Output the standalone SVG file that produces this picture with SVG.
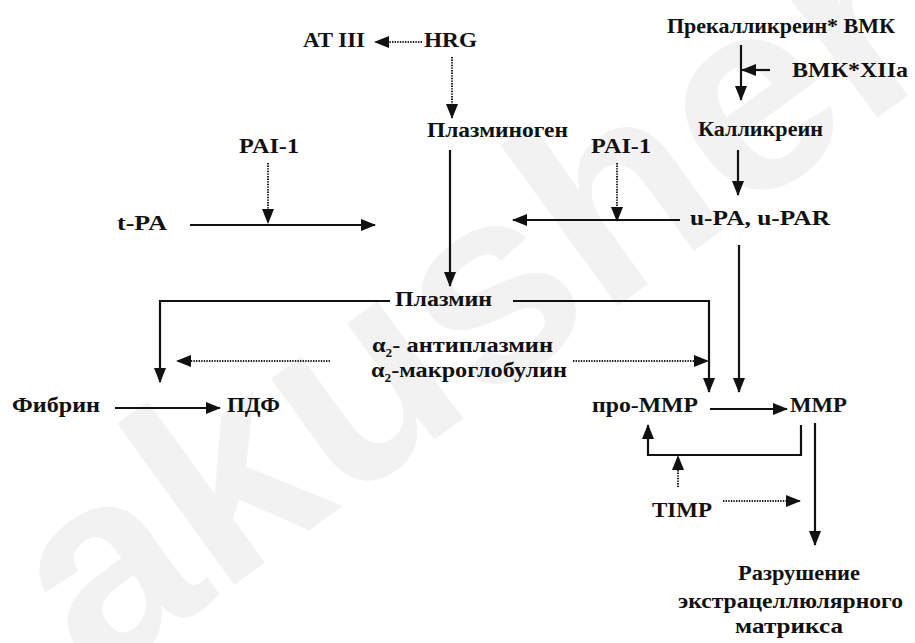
<svg xmlns="http://www.w3.org/2000/svg" width="915" height="643" viewBox="0 0 915 643">
  <style>
    text { font-family: "Liberation Serif", "Times New Roman", serif; font-weight: bold; font-size: 22px; fill: #111; }
    .sub { font-size: 12px; }
    .ln { fill: none; stroke: #111; stroke-width: 2.2; }
    .dot { fill: none; stroke: #222; stroke-width: 2; stroke-dasharray: 1.4 1.2; }
    .wm { font-family: "Liberation Sans", Arial, sans-serif; font-weight: bold; font-size: 275px; fill: #f2f2f2; }
  </style>
  <defs>
    <marker id="arr" markerUnits="userSpaceOnUse" markerWidth="15" markerHeight="12" refX="14" refY="6" orient="auto">
      <path d="M0,0 L15,6 L0,12 Z" fill="#111"/>
    </marker>
  </defs>

  <rect width="915" height="643" fill="#fff"/>

  <!-- faint background lettering -->
  <g id="watermark">
    <text class="wm" transform="rotate(-36 95 686)" x="95" y="686">akusherstvo</text>
  </g>

  <!-- connectors -->
  <g id="connectors">
    <line class="dot" x1="422" y1="42" x2="375" y2="42" marker-end="url(#arr)"/>
    <line class="dot" x1="452" y1="57" x2="452" y2="118" marker-end="url(#arr)"/>
    <line class="ln" x1="741" y1="45" x2="741" y2="100" marker-end="url(#arr)"/>
    <line class="ln" x1="770" y1="70" x2="742" y2="70" marker-end="url(#arr)"/>
    <line class="ln" x1="738" y1="150" x2="738" y2="195" marker-end="url(#arr)"/>
    <line class="dot" x1="268" y1="163" x2="268" y2="223" marker-end="url(#arr)"/>
    <line class="ln" x1="190" y1="225" x2="375" y2="225" marker-end="url(#arr)"/>
    <line class="dot" x1="617" y1="163" x2="617" y2="221" marker-end="url(#arr)"/>
    <line class="ln" x1="680" y1="220" x2="513" y2="220" marker-end="url(#arr)"/>
    <line class="ln" x1="450" y1="150" x2="450" y2="286" marker-end="url(#arr)"/>
    <polyline class="ln" points="390,301 160,301 160,382" marker-end="url(#arr)"/>
    <polyline class="ln" points="513,301 709,301 709,392" marker-end="url(#arr)"/>
    <line class="dot" x1="330" y1="361" x2="177" y2="361" marker-end="url(#arr)"/>
    <line class="dot" x1="573" y1="361" x2="708" y2="361" marker-end="url(#arr)"/>
    <line class="ln" x1="739" y1="245" x2="739" y2="392" marker-end="url(#arr)"/>
    <line class="ln" x1="115" y1="408" x2="220" y2="408" marker-end="url(#arr)"/>
    <line class="ln" x1="710" y1="409" x2="787" y2="409" marker-end="url(#arr)"/>
    <polyline class="ln" points="801,425 801,455 648,455 648,425" marker-end="url(#arr)"/>
    <line class="dot" x1="678" y1="487" x2="678" y2="456" marker-end="url(#arr)"/>
    <line class="dot" x1="723" y1="501" x2="800" y2="501" marker-end="url(#arr)"/>
    <line class="ln" x1="815" y1="423" x2="815" y2="545" marker-end="url(#arr)"/>
  </g>

  <!-- nodes -->
  <g id="at3"><text x="303" y="47" textLength="62" lengthAdjust="spacingAndGlyphs">AT III</text></g>
  <g id="hrg"><text x="424" y="47" textLength="53" lengthAdjust="spacingAndGlyphs">HRG</text></g>
  <g id="prekallikrein"><text x="667" y="33" textLength="228" lengthAdjust="spacingAndGlyphs">Прекалликреин* ВМК</text></g>
  <g id="bmk-xiia"><text x="792" y="77" textLength="116" lengthAdjust="spacingAndGlyphs">ВМК*XIIa</text></g>
  <g id="plasminogen"><text x="427" y="137" textLength="141" lengthAdjust="spacingAndGlyphs">Плазминоген</text></g>
  <g id="kallikrein"><text x="698" y="136" textLength="125" lengthAdjust="spacingAndGlyphs">Калликреин</text></g>
  <g id="pai1-left"><text x="239" y="153" textLength="60" lengthAdjust="spacingAndGlyphs">PAI-1</text></g>
  <g id="pai1-right"><text x="591" y="153" textLength="60" lengthAdjust="spacingAndGlyphs">PAI-1</text></g>
  <g id="tpa"><text x="117" y="230" textLength="50" lengthAdjust="spacingAndGlyphs">t-PA</text></g>
  <g id="upa"><text x="690" y="225" textLength="140" lengthAdjust="spacingAndGlyphs">u-PA, u-PAR</text></g>
  <g id="plasmin"><text x="395" y="306" textLength="97" lengthAdjust="spacingAndGlyphs">Плазмин</text></g>
  <g id="inhibitors">
    <text x="372" y="352" textLength="181" lengthAdjust="spacingAndGlyphs">α<tspan class="sub" dy="5">2</tspan><tspan dy="-5">- антиплазмин</tspan></text>
    <text x="371" y="377" textLength="196" lengthAdjust="spacingAndGlyphs">α<tspan class="sub" dy="5">2</tspan><tspan dy="-5">-макроглобулин</tspan></text>
  </g>
  <g id="fibrin"><text x="12" y="412" textLength="88" lengthAdjust="spacingAndGlyphs">Фибрин</text></g>
  <g id="pdf"><text x="227" y="412" textLength="53" lengthAdjust="spacingAndGlyphs">ПДФ</text></g>
  <g id="pro-mmp"><text x="592" y="412" textLength="106" lengthAdjust="spacingAndGlyphs">про-MMP</text></g>
  <g id="mmp"><text x="790" y="412" textLength="57" lengthAdjust="spacingAndGlyphs">MMP</text></g>
  <g id="timp"><text x="652" y="517" textLength="60" lengthAdjust="spacingAndGlyphs">TIMP</text></g>
  <g id="ecm">
    <text x="738" y="580" textLength="122" lengthAdjust="spacingAndGlyphs">Разрушение</text>
    <text x="678" y="608" textLength="225" lengthAdjust="spacingAndGlyphs">экстрацеллюлярного</text>
    <text x="735" y="633" textLength="108" lengthAdjust="spacingAndGlyphs">матрикса</text>
  </g>
</svg>
